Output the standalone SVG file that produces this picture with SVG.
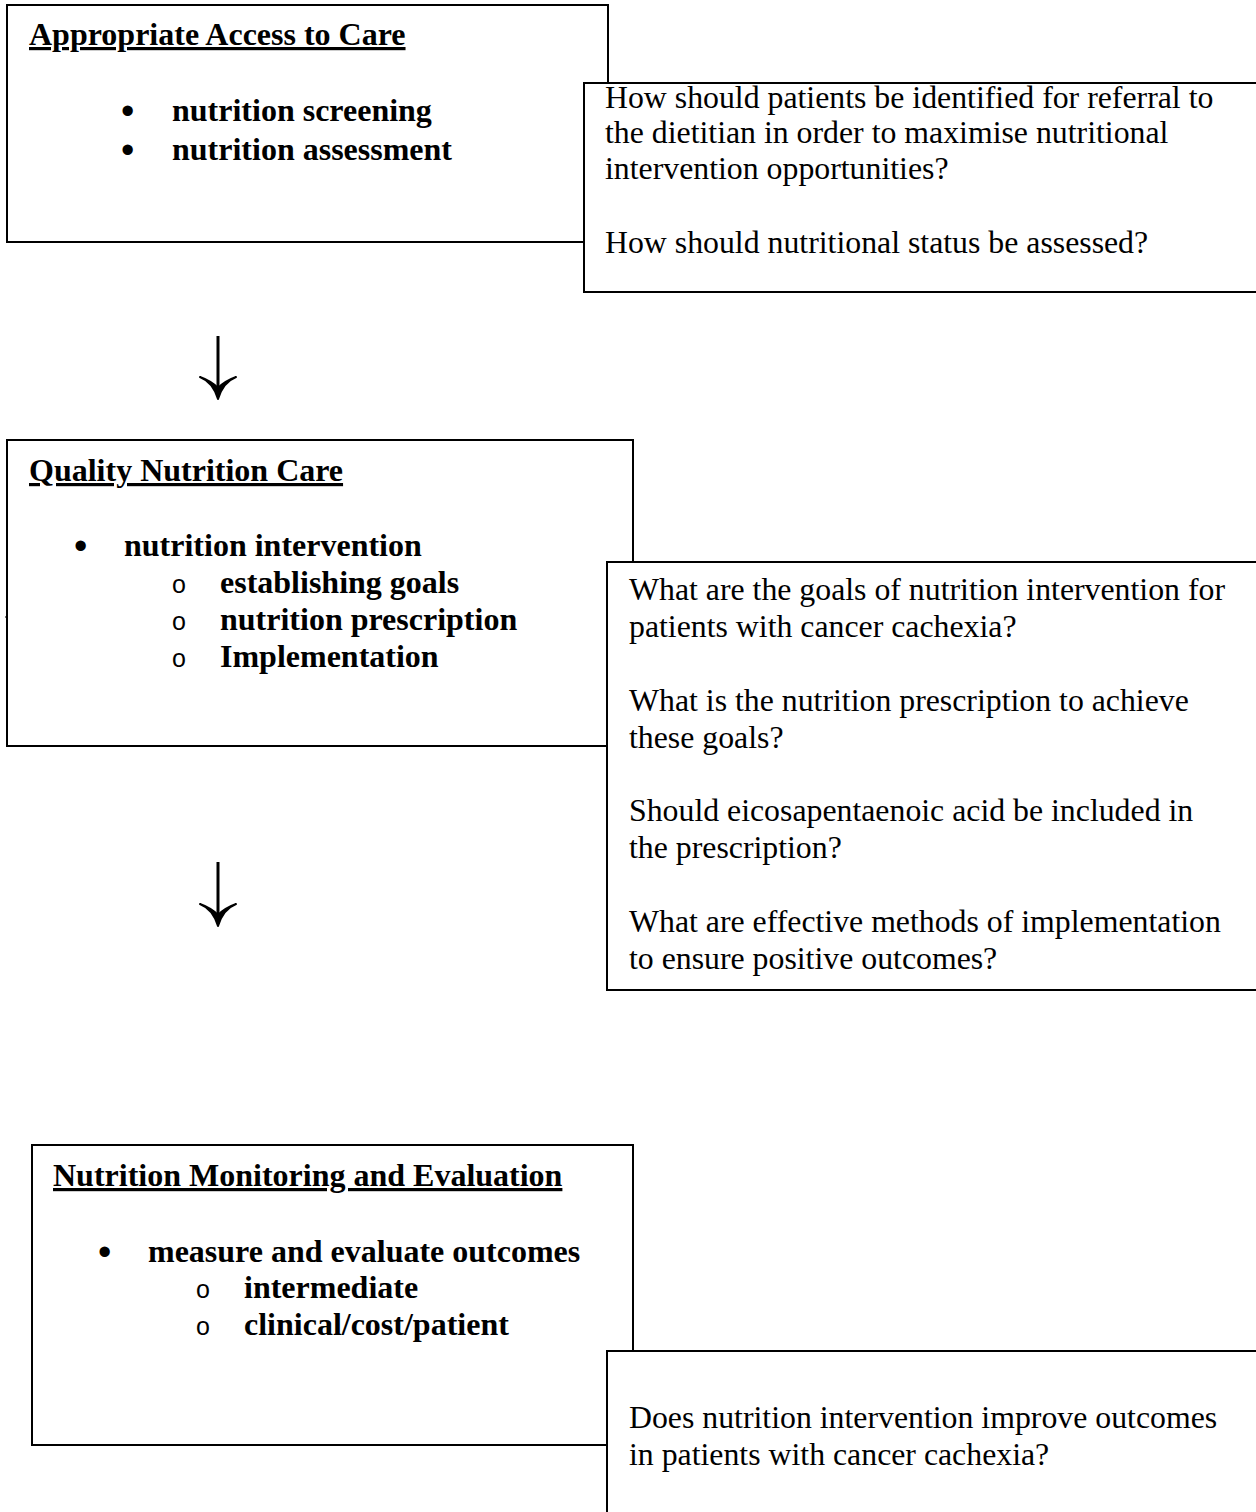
<svg xmlns="http://www.w3.org/2000/svg" width="1256" height="1512" viewBox="0 0 1256 1512">
<style>
.box{fill:#fff;stroke:#000;stroke-width:2}
.h{font-family:"Liberation Serif",serif;font-weight:bold;font-size:32px;text-decoration:underline}
.b{font-family:"Liberation Serif",serif;font-weight:bold;font-size:32px}
.q{font-family:"Liberation Serif",serif;font-size:31.8px}
.o{font-family:"Liberation Sans",sans-serif;font-size:25px}
.dot{font-family:"Liberation Sans",sans-serif;font-size:38px}
.arr{fill:none;stroke:#000;stroke-width:3}
.head{fill:#000;stroke:#000;stroke-width:2;stroke-linejoin:round}
</style>
<rect width="1256" height="1512" fill="#fff"/>
<g id="access">
<rect class="box" x="7" y="5" width="601" height="237"/>
<text class="h" x="29" y="45">Appropriate Access to Care </text>
<text class="dot" x="121" y="124">•</text>
<text class="b" x="172" y="121">nutrition screening</text>
<text class="dot" x="121" y="163">•</text>
<text class="b" x="172" y="160">nutrition assessment</text>
</g>
<g id="q-access">
<rect class="box" x="584" y="83" width="674" height="209"/>
<text class="q" x="605" y="108">How should patients be identified for referral to</text>
<text class="q" x="605" y="143">the dietitian in order to maximise nutritional</text>
<text class="q" x="605" y="179">intervention opportunities?</text>
<text class="q" x="605" y="253">How should nutritional status be assessed?</text>
</g>
<g id="care">
<rect class="box" x="7" y="440" width="626" height="306"/>
<line x1="5" y1="617" x2="8" y2="617" stroke="#000" stroke-width="1"/>
<text class="h" x="29" y="481">Quality Nutrition Care</text>
<text class="dot" x="74" y="559">•</text>
<text class="b" x="124" y="556">nutrition intervention</text>
<text class="o" x="172" y="593">o</text>
<text class="b" x="220" y="593">establishing goals</text>
<text class="o" x="172" y="630">o</text>
<text class="b" x="220" y="630">nutrition prescription</text>
<text class="o" x="172" y="667">o</text>
<text class="b" x="220" y="667">Implementation</text>
</g>
<g id="q-care">
<rect class="box" x="607" y="562" width="651" height="428"/>
<text class="q" x="629" y="600">What are the goals of nutrition intervention for</text>
<text class="q" x="629" y="637">patients with cancer cachexia?</text>
<text class="q" x="629" y="711">What is the nutrition prescription to achieve</text>
<text class="q" x="629" y="748">these goals?</text>
<text class="q" x="629" y="821">Should eicosapentaenoic acid be included in</text>
<text class="q" x="629" y="858">the prescription?</text>
<text class="q" x="629" y="932">What are effective methods of implementation</text>
<text class="q" x="629" y="969">to ensure positive outcomes?</text>
</g>
<g id="monitoring">
<rect class="box" x="32" y="1145" width="601" height="300"/>
<text class="h" x="53" y="1186">Nutrition Monitoring and Evaluation</text>
<text class="dot" x="98" y="1265">•</text>
<text class="b" x="148" y="1262">measure and evaluate outcomes</text>
<text class="o" x="196" y="1298">o</text>
<text class="b" x="244" y="1298">intermediate</text>
<text class="o" x="196" y="1335">o</text>
<text class="b" x="244" y="1335">clinical/cost/patient</text>
</g>
<g id="q-monitoring">
<rect class="box" x="607" y="1351" width="651" height="170"/>
<text class="q" x="629" y="1428">Does nutrition intervention improve outcomes</text>
<text class="q" x="629" y="1465">in patients with cancer cachexia?</text>
</g>
<g id="connectors">
<path class="arr" d="M218 336 V392"/>
<path class="head" d="M200 377 Q213 382 218 399 Q223 382 236 377 Q225 381 218 388 Q211 381 200 377 Z"/>
<path class="arr" d="M218 862 V919"/>
<path class="head" d="M200 904 Q213 909 218 926 Q223 909 236 904 Q225 908 218 915 Q211 908 200 904 Z"/>
</g>
</svg>
